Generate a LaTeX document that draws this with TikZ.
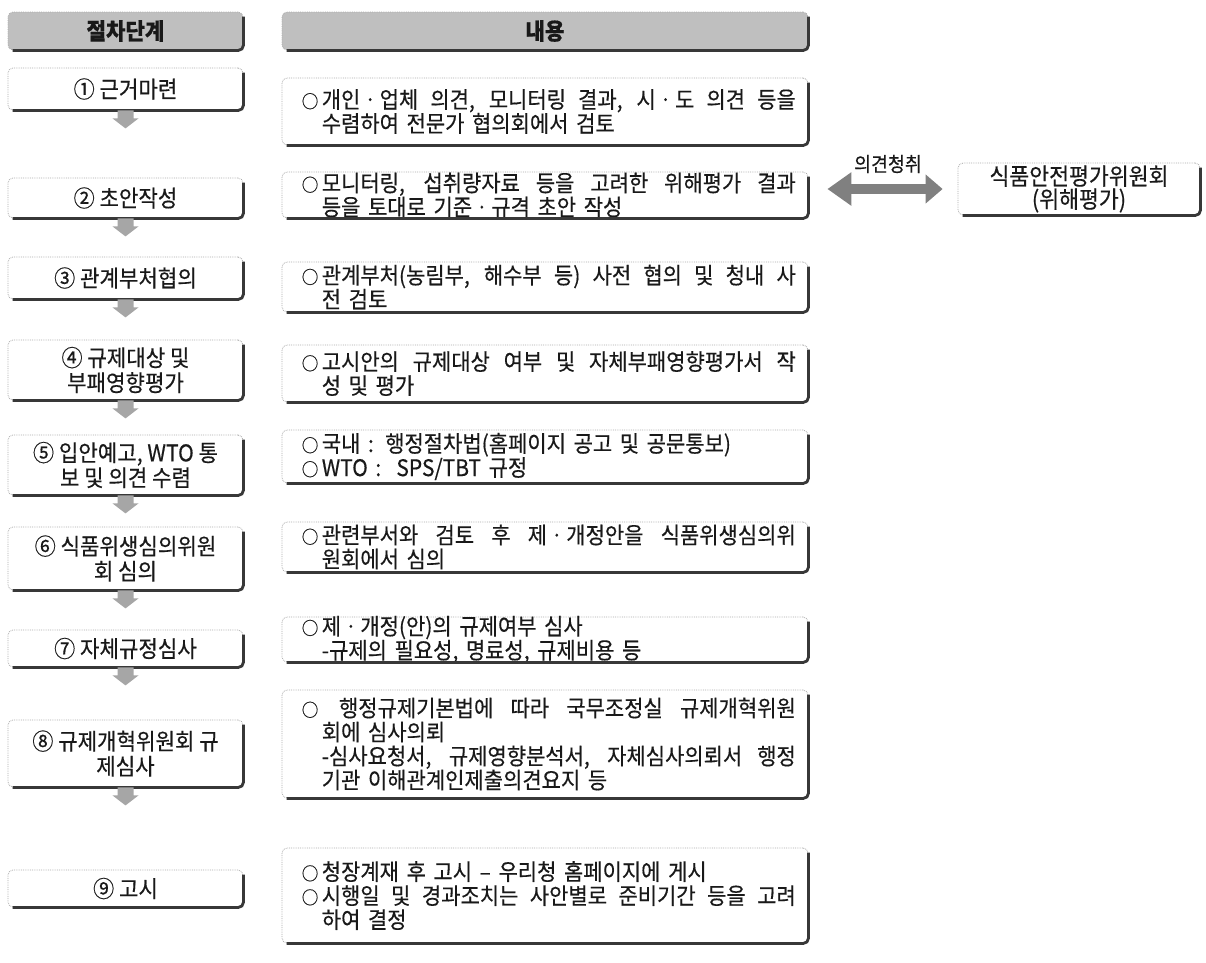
\documentclass[tikz,border=0pt]{standalone}
\usepackage{fontspec}
\setmainfont{Noto Sans CJK KR}[FakeStretch=0.92, FakeBold=0.4]
\usetikzlibrary{arrows.meta}
\newlength\rw \setlength\rw{494pt}
\newlength\hg \setlength\hg{20pt}
\newcommand\bul{\makebox[\hg][l]{\fontsize{18}{18}\selectfont ○}}
\newcommand\jl[1]{{\spaceskip=4.8pt plus 40pt minus 0.5pt\relax\makebox[\rw][s]{#1}}\\}
\newcommand\jc[1]{\hspace*{\hg}{\spaceskip=4.8pt plus 40pt minus 0.5pt\relax\makebox[\dimexpr\rw-\hg\relax][s]{#1}}\\}
\newcommand\lc[1]{\hspace*{\hg}#1}
\tikzset{
  frame/.style={draw=gray!65, densely dotted, line width=0.8pt, rounded corners=5pt, inner sep=0pt, text=black!90},
  headbox/.style={frame, fill=gray!50, minimum height=38pt, font=\fontsize{23}{24}\selectfont\bfseries},
  lbox/.style={frame, minimum width=235pt, align=center, font=\fontsize{23}{25}\selectfont},
  rbox/.style={frame, minimum width=526pt},
  rtext/.style={inner sep=0pt, text width=\rw, align=left, text=black!90, font=\fontsize{22.8}{24}\selectfont},
  shadeline/.style={draw=black!78, line width=2.8pt, rounded corners=5pt, solid},
  downarr/.style={fill=gray!70},
  dblarrow/.style={draw=black!50, line width=10pt, {Triangle[length=24pt,width=32pt]}-{Triangle[length=17pt,width=28pt]}},
  lab/.style={inner sep=1pt, text=black!90, font=\fontsize{20}{20}\selectfont},
}
\newcommand\shadeedge[1]{\draw[shadeline] ([yshift=-5pt]#1.north east) -- (#1.south east) -- ([xshift=5pt]#1.south west);}
\newcommand\darr[1]{\fill[downarr] ([xshift=-8pt]#1.south) -- ([xshift=8pt]#1.south) -- ([xshift=8pt,yshift=-8pt]#1.south) -- ([xshift=13pt,yshift=-8pt]#1.south) -- ([yshift=-18pt]#1.south) -- ([xshift=-13pt,yshift=-8pt]#1.south) -- ([xshift=-8pt,yshift=-8pt]#1.south) -- cycle;}
\begin{document}
\begin{tikzpicture}[x=1pt,y=-1pt]
\fill[white] (0,0) rectangle (1206,962);
\useasboundingbox (0,0) rectangle (1206,962);
% headers
\node[headbox, minimum width=235pt] (h1) at (125.5,31) {절차단계};
\node[headbox, minimum width=526pt] (h2) at (545,31) {내용};
% left steps
\node[lbox, minimum height=42pt] (l1) at (125.5,89) {① 근거마련};
\node[lbox, minimum height=40pt] (l2) at (125.5,198) {② 초안작성};
\node[lbox, minimum height=42pt] (l3) at (125.5,278) {③ 관계부처협의};
\node[lbox, minimum height=60pt] (l4) at (125.5,370) {④ 규제대상 및\\부패영향평가};
\node[lbox, minimum height=60pt] (l5) at (125.5,465) {⑤ 입안예고, WTO 통\\보 및 의견 수렴};
\node[lbox, minimum height=63pt] (l6) at (125.5,558.5) {⑥ 식품위생심의위원\\회 심의};
\node[lbox, minimum height=37pt] (l7) at (125.5,648.5) {⑦ 자체규정심사};
\node[lbox, minimum height=67pt] (l8) at (125.5,753.5) {⑧ 규제개혁위원회 규\\제심사};
\node[lbox, minimum height=37pt] (l9) at (125.5,888.5) {⑨ 고시};
% right boxes
\node[rbox, minimum height=67pt] (r1) at (545,111.5) {};
\node[rbox, minimum height=46pt] (r2) at (545,195) {};
\node[rbox, minimum height=50pt] (r3) at (545,287) {};
\node[rbox, minimum height=57pt] (r4) at (545,373.5) {};
\node[rbox, minimum height=53pt] (r5) at (545,456.5) {};
\node[rbox, minimum height=50pt] (r6) at (545,547) {};
\node[rbox, minimum height=45pt] (r7) at (545,639.5) {};
\node[rbox, minimum height=108pt] (r8) at (545,744) {};
\node[rbox, minimum height=95pt] (r9) at (545,895.5) {};
% texts
\node[rtext, anchor=west] (t1) at ([xshift=20pt]r1.west) {\jl{\bul 개인ㆍ업체 의견, 모니터링 결과, 시ㆍ도 의견 등을}\lc{수렴하여 전문가 협의회에서 검토}};
\node[rtext, anchor=west] (t2) at ([xshift=20pt]r2.west) {\jl{\bul 모니터링, 섭취량자료 등을 고려한 위해평가 결과}\lc{등을 토대로 기준ㆍ규격 초안 작성}};
\node[rtext, anchor=west] (t3) at ([xshift=20pt]r3.west) {\jl{\bul 관계부처(농림부, 해수부 등) 사전 협의 및 청내 사}\lc{전 검토}};
\node[rtext, anchor=west] (t4) at ([xshift=20pt]r4.west) {\jl{\bul 고시안의 규제대상 여부 및 자체부패영향평가서 작}\lc{성 및 평가}};
\node[rtext, anchor=west] (t5) at ([xshift=20pt]r5.west) {\bul 국내 : 행정절차법(홈페이지 공고 및 공문통보)\\\bul WTO :\ \ SPS/TBT 규정};
\node[rtext, anchor=west] (t6) at ([xshift=20pt]r6.west) {\jl{\bul 관련부서와 검토 후 제ㆍ개정안을 식품위생심의위}\lc{원회에서 심의}};
\node[rtext, anchor=west] (t7) at ([xshift=20pt]r7.west) {\bul 제ㆍ개정(안)의 규제여부 심사\\\lc{-규제의 필요성, 명료성, 규제비용 등}};
\node[rtext, anchor=west] (t8) at ([xshift=20pt]r8.west) {\jl{\bul\ 행정규제기본법에 따라 국무조정실 규제개혁위원}\lc{회에 심사의뢰}\\\jc{-심사요청서, 규제영향분석서, 자체심사의뢰서 행정}\lc{기관 이해관계인제출의견요지 등}};
\node[rtext, anchor=west] (t9) at ([xshift=20pt]r9.west) {\bul 청장계재 후 고시 – 우리청 홈페이지에 게시\\\jl{\bul 시행일 및 경과조치는 사안별로 준비기간 등을 고려}\lc{하여 결정}};
% committee
\node[frame, minimum width=242pt, minimum height=52pt, align=center, font=\fontsize{23.5}{23}\selectfont] (cm) at (1079,189) {식품안전평가위원회\\(위해평가)};
\draw[dblarrow, shorten <=19pt, shorten >=15pt] (r2.east |- cm.west) -- (cm.west);
\node[lab] (lb) at (888,164) {의견청취};
% shadows
\foreach \n in {h1,h2,l1,l2,l3,l4,l5,l6,l7,l8,l9,r1,r2,r3,r4,r5,r6,r7,r8,r9,cm}{\shadeedge{\n}}
% step arrows
\foreach \n in {l1,l2,l3,l4,l5,l6,l7,l8}{\darr{\n}}
\end{tikzpicture}
\end{document}
